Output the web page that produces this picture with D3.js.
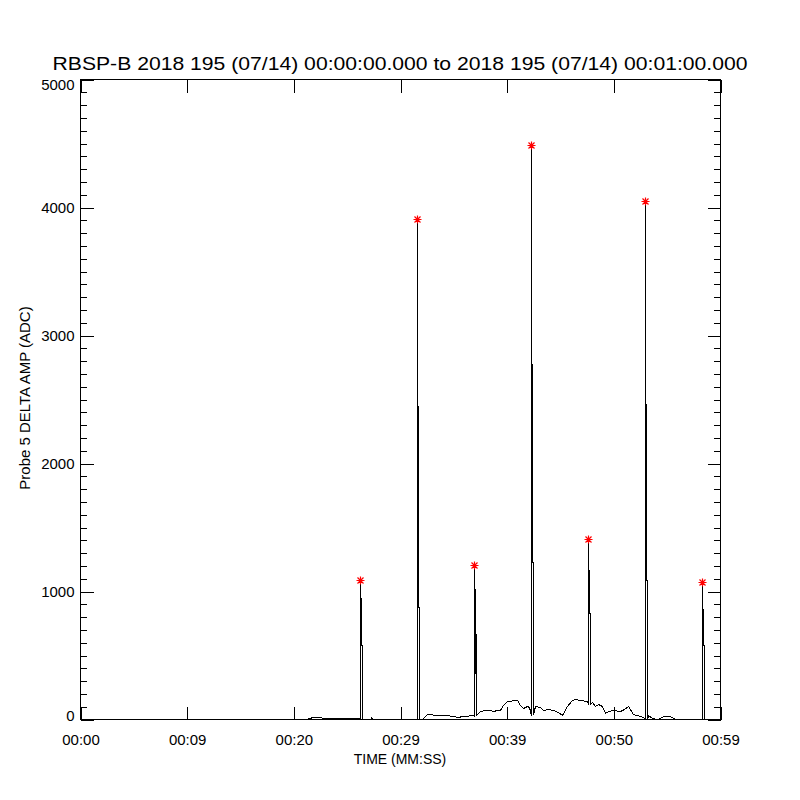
<!DOCTYPE html>
<html>
<head>
<meta charset="utf-8">
<script src="https://cdn.jsdelivr.net/npm/d3@7"></script>
<style>
  html, body { margin: 0; padding: 0; background: #fff; }
  text { font-family: "Liberation Sans", "DejaVu Sans", sans-serif; fill: #000; }
</style>
</head>
<body>
<svg id="chart" width="800" height="800"></svg>
<script>
// ---------- data ----------
const titleText = "RBSP-B 2018 195 (07/14) 00:00:00.000 to 2018 195 (07/14) 00:01:00.000";
const xLabel = "TIME (MM:SS)";
const yLabel = "Probe 5 DELTA AMP (ADC)";

const xTickValues = [0, 10, 20, 30, 40, 50, 60];
const xTickLabels = ["00:00", "00:09", "00:20", "00:29", "00:39", "00:50", "00:59"];
const yTickValues = [0, 1000, 2000, 3000, 4000, 5000];
const yMinorStep = 100;

// slowly varying background level (seconds, ADC)
const baseTimes  = [0, 21.3, 21.5, 21.8, 22.5, 22.8, 26.1, 27.25, 27.3, 27.35, 32.1, 32.5, 33.5, 34.3, 35.0, 35.4, 35.8, 36.3, 36.6, 36.8,
                    37.1, 37.5, 38.1, 38.4, 38.75, 39.06, 39.38, 39.68, 40.0, 40.3, 40.62, 40.94, 41.25, 41.56, 41.88, 42.1,
                    42.66, 43.13, 43.43, 43.9, 44.37, 44.8, 45.16, 45.63, 46.1, 46.41, 46.88, 47.5,
                    47.97, 48.28, 48.59, 48.91, 49.22, 49.53, 50.0, 50.63, 51.0, 51.4, 51.87, 52.5, 52.8,
                    53.28, 53.6, 54.07, 54.4, 54.68, 55.31, 55.62, 55.9, 60];
const baseValues = [0, 0, 10, 14, 14, 8, 8, 0, 18, 0, 0, 39, 33, 30, 26, 15, 25, 20, 30, 35,
                    60, 62, 67, 70, 59, 72, 67, 111, 137, 140, 145, 150, 111, 86, 98, 95,
                    98, 94, 72, 75, 67, 55, 33, 98, 150, 156, 145, 137,
                    130, 104, 120, 98, 47, 59, 67, 59, 80, 98, 41, 20, 15,
                    33, 8, 0, 5, 20, 20, 5, 0, 0];

// spikes (peaks marked with red asterisks)
const spikeTimes = [26.25, 31.56, 36.94, 42.28, 47.65, 52.97, 58.3];
const spikePeaks = [1086, 3910, 1203, 4485, 1403, 4050, 1070];
const spikeRise  = [945, 2442, 1018, 2775, 1164, 2458, 857];
const spikeFall  = [580, 878, 670, 1228, 831, 1086, 580];
const spikePre   = [0, 0, 20, 30, 120, 0, 0];
const spikePost  = [0, 0, 30, 40, 120, 0, 0];
const sampleStep = 0.094; // seconds between neighbouring samples inside a spike

// ---------- layout ----------
const svg = d3.select("#chart");
const plotL = 80, plotR = 720, plotT = 79, plotB = 719;

const x = d3.scaleLinear().domain([0, 60]).range([plotL, plotR]);
const y = d3.scaleLinear().domain([0, 5000]).range([plotB, plotT]);

// build series
const pts = baseTimes.map((t, i) => ({ t, v: baseValues[i] }));
spikeTimes.forEach((t, i) => {
  const s = sampleStep;
  pts.push({ t: t - 0.001, v: spikePre[i] });
  pts.push({ t: t,         v: spikePeaks[i] });
  pts.push({ t: t + 0.001, v: spikeRise[i] });
  pts.push({ t: t + s,     v: spikeRise[i] });
  pts.push({ t: t + s + 0.001, v: spikeFall[i] });
  pts.push({ t: t + 2 * s, v: spikeFall[i] });
  pts.push({ t: t + 2 * s + 0.001, v: spikePost[i] });
});
pts.sort((a, b) => a.t - b.t);

// data line
svg.append("path")
  .datum(pts)
  .attr("fill", "none")
  .attr("stroke", "#000")
  .attr("stroke-width", 1)
  .attr("shape-rendering", "crispEdges")
  .attr("d", d3.line().x(d => Math.round(x(d.t)) + 0.5).y(d => Math.round(y(d.v)) + 0.5));

// frame
svg.append("rect")
  .attr("x", plotL + 0.5).attr("y", plotT + 0.5)
  .attr("width", plotR - plotL).attr("height", plotB - plotT)
  .attr("fill", "none").attr("stroke", "#000").attr("stroke-width", 1);

// axes with inward ticks
const yMinor = d3.range(0, 5001, yMinorStep);
const axB = d3.axisBottom(x).tickValues(xTickValues).tickSize(-13).tickFormat((d, i) => xTickLabels[i]).tickPadding(15);
const axT = d3.axisTop(x).tickValues(xTickValues).tickSize(-13).tickFormat("");
const axL = d3.axisLeft(y).tickValues(yTickValues).tickSize(-13).tickFormat(d3.format("d")).tickPadding(6);
const axR = d3.axisRight(y).tickValues(yTickValues).tickSize(-13).tickFormat("");
const axLm = d3.axisLeft(y).tickValues(yMinor).tickSize(-6.5).tickFormat("");
const axRm = d3.axisRight(y).tickValues(yMinor).tickSize(-6.5).tickFormat("");

function styleAxis(g) {
  g.select(".domain").remove();
  g.selectAll("line").attr("stroke", "#000").attr("shape-rendering", "crispEdges");
  g.selectAll("text").attr("font-size", 15).attr("font-family", "Liberation Sans, DejaVu Sans, sans-serif");
}
svg.append("g").attr("transform", `translate(0.5,${plotB + 0.5})`).call(axB).call(styleAxis);
svg.append("g").attr("transform", `translate(0.5,${plotT + 0.5})`).call(axT).call(styleAxis);
const gL = svg.append("g").attr("transform", `translate(${plotL + 0.5},0.5)`).call(axL).call(styleAxis);
svg.append("g").attr("transform", `translate(${plotR + 0.5},0.5)`).call(axR).call(styleAxis);
svg.append("g").attr("transform", `translate(${plotL + 0.5},0.5)`).call(axLm).call(styleAxis);
svg.append("g").attr("transform", `translate(${plotR + 0.5},0.5)`).call(axRm).call(styleAxis);
// end labels sit just inside the frame, as in the reference
gL.selectAll(".tick text").attr("y", d => d === 5000 ? 5 : (d === 0 ? -4 : 0));

// red asterisks at peaks
const star = "M-4,0L4,0M0,-4L0,4M-3,-3L3,3M-3,3L3,-3";
svg.append("g").selectAll("path")
  .data(spikeTimes.map((t, i) => ({ t, v: spikePeaks[i] })))
  .join("path")
  .attr("transform", d => `translate(${Math.round(x(d.t)) + 0.5},${Math.round(y(d.v)) + 0.5})`)
  .attr("d", star)
  .attr("stroke", "#ff0000")
  .attr("stroke-width", 1.2)
  .attr("fill", "none");

// titles
svg.append("text")
  .attr("x", 400).attr("y", 70)
  .attr("text-anchor", "middle")
  .attr("font-size", 19)
  .attr("textLength", 695).attr("lengthAdjust", "spacingAndGlyphs")
  .text(titleText);

svg.append("text")
  .attr("x", 400).attr("y", 764)
  .attr("text-anchor", "middle")
  .attr("font-size", 14)
  .text(xLabel);

svg.append("text")
  .attr("transform", "translate(30,398) rotate(-90)")
  .attr("text-anchor", "middle")
  .attr("font-size", 15)
  .text(yLabel);
</script>
</body>
</html>
